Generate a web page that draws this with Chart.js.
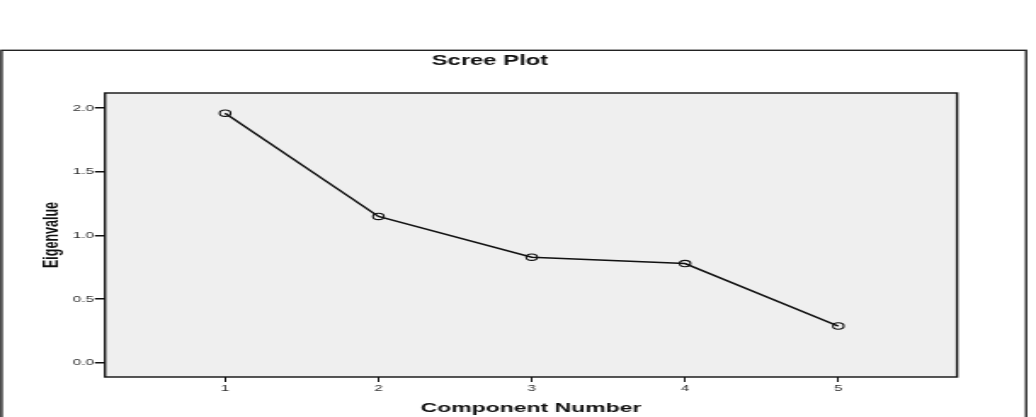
<!DOCTYPE html>
<html><head><meta charset="utf-8">
<script src="https://cdn.jsdelivr.net/npm/chart.js@4/dist/chart.umd.min.js"></script>
<style>
html,body{margin:0;padding:0;background:#fff;overflow:hidden;}
#wrap{width:1036px;height:417px;overflow:hidden;position:relative;}
#c{display:block;transform-origin:0 0;transform:scaleX(1.70115);}
</style></head><body>
<div id="wrap"><canvas id="c" width="609" height="417" style="width:609px;height:417px"></canvas></div>
<script>
// ---- data ----
const categories = [1, 2, 3, 4, 5];
const eigenvalues = [1.96, 1.15, 0.83, 0.78, 0.29];
const yTickValues = [0, 0.5, 1.0, 1.5, 2.0];
const chartTitle = 'Scree Plot';
const xTitle = 'Component Number';
const yTitle = 'Eigenvalue';

const FONT = "'Liberation Sans', Arial, Helvetica, sans-serif";

const framePlugin = {
  id: 'frame',
  beforeDraw(chart) {
    const ctx = chart.ctx;
    const a = chart.chartArea;
    ctx.save();
    ctx.fillStyle = '#ffffff';
    ctx.fillRect(0, 0, chart.width, chart.height);
    // outer box
    ctx.strokeStyle = '#222';
    ctx.lineWidth = 1.4;
    ctx.strokeRect(0.9, 50.3, 602.3, 420);
    // plot background
    ctx.fillStyle = '#efefef';
    ctx.fillRect(a.left, a.top, a.right - a.left, a.bottom - a.top);
    ctx.restore();
  },
  beforeDatasetsDraw(chart) {
    const ctx = chart.ctx;
    const a = chart.chartArea;
    ctx.save();
    ctx.strokeStyle = '#111';
    ctx.lineWidth = 1.4;
    ctx.strokeRect(a.left, a.top, a.right - a.left, a.bottom - a.top);
    ctx.restore();
  }
};

new Chart(document.getElementById('c'), {
  type: 'line',
  data: {
    datasets: [{
      data: categories.map((c, i) => ({x: c, y: eigenvalues[i]})),
      borderColor: '#111',
      borderWidth: 1.5,
      pointRadius: 3.2,
      pointBorderWidth: 1.1,
      pointBorderColor: '#111',
      pointBackgroundColor: 'rgba(0,0,0,0)',
      tension: 0,
      fill: false
    }]
  },
  options: {
    responsive: false,
    devicePixelRatio: 1,
    animation: false,
    layout: {padding: {left: 13.4, right: 46.4, top: 0, bottom: 0}},
    plugins: {
      legend: {display: false},
      tooltip: {enabled: false},
      title: {
        display: true,
        text: chartTitle,
        color: '#111',
        font: {family: FONT, size: 14, weight: 'bold'},
        padding: {top: 52.6, bottom: 23.6}
      }
    },
    scales: {
      x: {
        type: 'linear',
        min: 0.216,
        max: 5.775,
        afterFit(s) { s.height = 40; },
        afterBuildTicks(s) { s.ticks = categories.map(v => ({value: v})); },
        border: {display: false},
        grid: {display: true, drawOnChartArea: false, drawTicks: true, tickLength: 5, color: '#111', lineWidth: 1},
        ticks: {
          color: '#333',
          font: {family: FONT, size: 9},
          padding: 1,
          maxRotation: 0,
          callback: v => String(v)
        },
        title: {
          display: true,
          text: xTitle,
          color: '#111',
          font: {family: FONT, size: 13.5, weight: 'bold'},
          padding: {top: 0, bottom: 1}
        }
      },
      y: {
        type: 'linear',
        min: -0.11,
        max: 2.118,
        afterFit(s) { s.width = 48.3; },
        afterBuildTicks(s) { s.ticks = yTickValues.map(v => ({value: v})); },
        border: {display: false},
        grid: {display: true, drawOnChartArea: false, drawTicks: true, tickLength: 6, color: '#111', lineWidth: 1.5},
        ticks: {
          color: '#333',
          font: {family: FONT, size: 9},
          padding: 0.5,
          callback: v => Number(v).toFixed(1)
        },
        title: {
          display: true,
          text: yTitle,
          color: '#111',
          font: {family: FONT, size: 12.5, weight: 'bold'},
          padding: {top: 9.7, bottom: 0}
        }
      }
    }
  },
  plugins: [framePlugin]
});
</script>
</body></html>
